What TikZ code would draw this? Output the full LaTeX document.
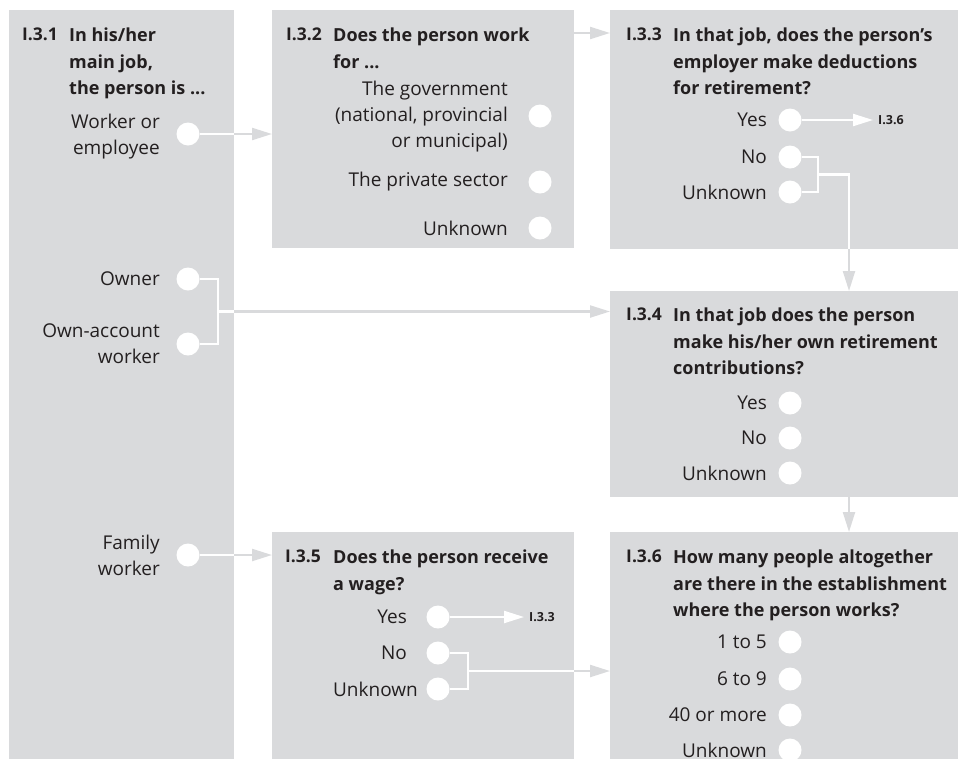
\documentclass[tikz,border=0pt]{standalone}
\usepackage{fontspec}
\setmainfont{Open Sans}
\usetikzlibrary{arrows.meta}
\definecolor{panelgrey}{HTML}{D9DADC}
\definecolor{ink}{HTML}{231F20}

\begin{document}
\begin{tikzpicture}[x=1pt,y=-1pt,
      panel/.style={rectangle,
                    fill=panelgrey,
                    inner sep=0pt,
                    anchor=north west},
      qnum/.style={anchor=north west,
                    inner sep=0pt,
                    text=ink,
                    font=\fontsize{17.5}{26.5}\selectfont\bfseries},
      qtext/.style={anchor=north west,
                    inner sep=0pt,
                    align=left,
                    text=ink,
                    font=\fontsize{18}{26.5}\selectfont\bfseries},
      answer/.style={anchor=east,
                    inner sep=0pt,
                    align=right,
                    text=ink,
                    font=\fontsize{19}{26}\selectfont},
      choice/.style={circle,
                    fill=white,
                    minimum size=23pt,
                    inner sep=0pt},
      goto/.style={anchor=west,
                    inner sep=5pt,
                    text=ink,
                    font=\fontsize{12.5}{15}\selectfont\bfseries},
      wline/.style={draw=white, line width=2.2pt},
      gline/.style={draw=panelgrey, line width=2.2pt,
                    -{Triangle[length=20pt,width=12pt]}}
    ]

    \useasboundingbox (0,0) rectangle (958,769);

    % panels
    \draw (9,10)    node[panel, minimum width=225pt, minimum height=749pt] (mainjob) {};
    \draw (272,10)  node[panel, minimum width=302pt, minimum height=238pt] (sector) {};
    \draw (610,10)  node[panel, minimum width=348pt, minimum height=239pt] (deduct) {};
    \draw (610,291) node[panel, minimum width=348pt, minimum height=206pt] (owncontrib) {};
    \draw (272,532) node[panel, minimum width=302pt, minimum height=227pt] (wage) {};
    \draw (610,532) node[panel, minimum width=348pt, minimum height=227pt] (estsize) {};

    % I.3.1
    \draw (22,28)  node[qnum]  (mainjobnum)  {I.3.1};
    \draw (69,28)  node[qtext] (mainjobtext) {In his/her\\main job,\\the person is ...};
    \draw (160,137) node[answer] (workertext)  {Worker or\\employee};
    \draw (188,134) node[choice] (worker) {};
    \draw (160,279) node[answer] (ownertext)   {Owner};
    \draw (188,279) node[choice] (owner) {};
    \draw (160,344) node[answer] (ownaccttext) {Own-account\\worker};
    \draw (188,344) node[choice] (ownacct) {};
    \draw (160,555) node[answer] (familytext)  {Family\\worker};
    \draw (188,555) node[choice] (family) {};

    % I.3.2
    \draw (286,28) node[qnum]  (sectornum)  {I.3.2};
    \draw (333,28) node[qtext] (sectortext) {Does the person work\\for ...};
    \draw (508,117) node[answer] (govtext) {The government\\(national, provincial\\or municipal)};
    \draw (540,116) node[choice] (gov) {};
    \draw (508,182) node[answer] (privatetext) {The private sector};
    \draw (540,182) node[choice] (private) {};
    \draw (508,228) node[answer] (sectorunktext) {Unknown};
    \draw (540,228) node[choice] (sectorunk) {};

    % I.3.3
    \draw (626,28) node[qnum]  (deductnum)  {I.3.3};
    \draw (673,28) node[qtext] (deducttext) {In that job, does the person’s\\employer make deductions\\for retirement?};
    \draw (767,120) node[answer] (dedyestext) {Yes};
    \draw (790,120) node[choice] (dedyes) {};
    \draw (767,157) node[answer] (dednotext) {No};
    \draw (790,157) node[choice] (dedno) {};
    \draw (767,192) node[answer] (dedunktext) {Unknown};
    \draw (790,192) node[choice] (dedunk) {};
    \draw (873,120) node[goto] (goto36) {I.3.6};

    % I.3.4
    \draw (626,308) node[qnum]  (owncontribnum)  {I.3.4};
    \draw (673,308) node[qtext] (owncontribtext) {In that job does the person\\make his/her own retirement\\contributions?};
    \draw (767,403) node[answer] (ownyestext) {Yes};
    \draw (790,403) node[choice] (ownyes) {};
    \draw (767,438) node[answer] (ownnotext) {No};
    \draw (790,438) node[choice] (ownno) {};
    \draw (767,473) node[answer] (ownunktext) {Unknown};
    \draw (790,473) node[choice] (ownunk) {};

    % I.3.5
    \draw (285,550) node[qnum]  (wagenum)  {I.3.5};
    \draw (333,550) node[qtext] (wagetext) {Does the person receive\\a wage?};
    \draw (407,617) node[answer] (wageyestext) {Yes};
    \draw (438,617) node[choice] (wageyes) {};
    \draw (407,653) node[answer] (wagenotext) {No};
    \draw (438,653) node[choice] (wageno) {};
    \draw (418,689) node[answer] (wageunktext) {Unknown};
    \draw (438,689) node[choice] (wageunk) {};
    \draw (524,617) node[goto] (goto33) {I.3.3};

    % I.3.6
    \draw (626,550) node[qnum]  (estsizenum)  {I.3.6};
    \draw (673,550) node[qtext] (estsizetext) {How many people altogether\\are there in the establishment\\where the person works?};
    \draw (767,642) node[answer] (size1text) {1 to 5};
    \draw (790,642) node[choice] (size1) {};
    \draw (767,679) node[answer] (size6text) {6 to 9};
    \draw (790,679) node[choice] (size6) {};
    \draw (767,715) node[answer] (size40text) {40 or more};
    \draw (790,715) node[choice] (size40) {};
    \draw (767,750) node[answer] (sizeunktext) {Unknown};
    \draw (790,750) node[choice] (sizeunk) {};

    % joints
    \path (sector.north east) ++(0,23) coordinate (sectorout);
    \coordinate (ownjoin) at (218,311.5);
    \coordinate (dedjoin) at (818,174.5);
    \coordinate (deddrop) at (849,174.5);
    \coordinate (wagejoin) at (468,671);

    % connectors
    \draw [wline] (worker.east) -- (worker.east -| mainjob.east);
    \draw [gline] (worker.east -| mainjob.east) -- (worker.east -| sector.west);

    \draw [gline] (sectorout) -- (sectorout -| deduct.west);

    \draw [wline] (owner.east) -| (ownjoin) |- (ownacct.east);
    \draw [wline] (ownjoin) -- (ownjoin -| mainjob.east);
    \draw [gline] (ownjoin -| mainjob.east) -- (ownjoin -| owncontrib.west);

    \draw [wline] (family.east) -- (family.east -| mainjob.east);
    \draw [gline] (family.east -| mainjob.east) -- (family.east -| wage.west);

    \draw [wline, -{Triangle[length=20pt,width=12pt]}] (dedyes.east) -- (goto36.west);
    \draw [wline] (dedno.east) -| (dedjoin) |- (dedunk.east);
    \draw [wline] (dedjoin) -- (deddrop) -- (deddrop |- deduct.south);
    \draw [gline] (deddrop |- deduct.south) -- (deddrop |- owncontrib.north);

    \draw [gline] (deddrop |- owncontrib.south) -- (deddrop |- estsize.north);

    \draw [wline, -{Triangle[length=20pt,width=12pt]}] (wageyes.east) -- (goto33.west);
    \draw [wline] (wageno.east) -| (wagejoin) |- (wageunk.east);
    \draw [wline] (wagejoin) -- (wagejoin -| wage.east);
    \draw [gline] (wagejoin -| wage.east) -- (wagejoin -| estsize.west);

\end{tikzpicture}
\end{document}
